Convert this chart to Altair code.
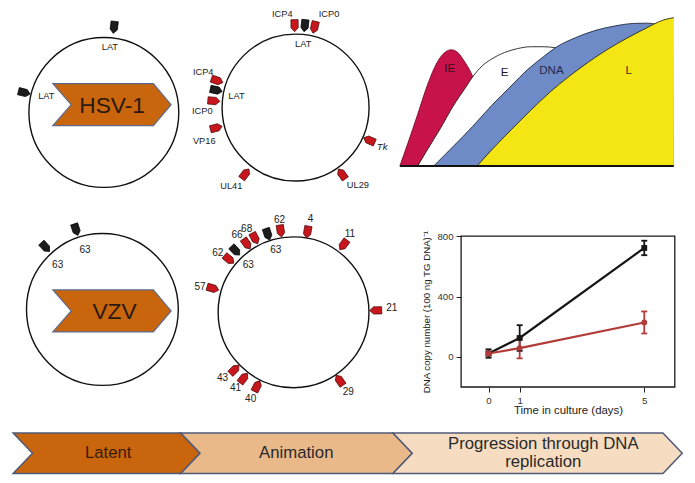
import altair as alt
import pandas as pd

# ---------------- data ----------------
# genome circles (reference-figure pixel units)
CIRCLE_ID = ["HSV-1 latent", "HSV-1 animation", "VZV latent", "VZV animation"]
CIRCLE_CX = [95.5, 293.8, 94.0, 291.7]
CIRCLE_CY = [108.0, 103.0, 311.8, 314.7]
CIRCLE_R = [77.5, 76.0, 78.5, 78.0]

# gene markers: circle index, angle (deg clockwise from top), distance from centre, class
MARK_CIRCLE = [0, 0] + [1] * 10 + [2, 2] + [3] * 14
MARK_ANGLE = [6.8, 284.0,
              359.3, 6.4, 13.2, 289.0, 282.4, 274.7, 255.7, 113.9, 145.1, 217.2,
              341.7, 317.6,
              351.0, 341.7, 332.4, 325.6, 316.7, 309.4, 286.5, 9.8, 36.5, 88.7, 145.9, 225.8, 217.2, 206.3]
MARK_DIST = [88.6, 84.8,
             84.7, 85.2, 85.3, 85.8, 84.0, 84.8, 84.7, 83.3, 83.7, 86.0,
             86.9, 87.4,
             85.1, 85.0, 86.2, 85.7, 87.5, 86.3, 87.0, 84.2, 86.7, 85.0, 84.9, 85.0, 85.4, 85.1]
MARK_CLASS = ["latency", "latency",
              "lytic", "latency", "lytic", "lytic", "latency", "lytic", "lytic", "lytic", "lytic", "lytic",
              "latency", "latency",
              "lytic", "latency", "lytic", "lytic", "latency", "lytic", "lytic", "lytic", "lytic",
              "lytic", "lytic", "lytic", "lytic", "lytic"]

# gene labels
LABEL_CIRCLE = [0, 0] + [1] * 10 + [2, 2] + [3] * 14
LABEL_TEXT = ["LAT", "LAT",
              "ICP4", "ICP0", "LAT", "ICP4", "LAT", "ICP0", "VP16", "Tk", "UL41", "UL29",
              "63", "63",
              "62", "4", "11", "68", "66", "62", "63", "63", "57", "21", "29", "43", "41", "40"]
LABEL_ANGLE = [5.3, 286.2,
               351.9, 19.6, 6.9, 290.8, 281.4, 268.2, 250.0, 114.2, 219.4, 141.0,
               343.8, 314.7,
               351.4, 10.3, 35.6, 330.5, 323.8, 308.1, 344.0, 316.2, 285.3, 87.7, 145.6, 227.2, 217.4, 206.4]
LABEL_DIST = [67.6, 62.0,
              98.0, 103.0, 66.2, 102.2, 62.3, 96.5, 100.5, 98.2, 104.8, 102.5,
              64.4, 65.1,
              96.5, 98.0, 100.1, 98.4, 98.8, 99.6, 66.6, 67.5, 100.2, 101.7, 100.1, 100.0, 98.9, 99.7]

# virus name chevrons
VIRUS_NAME = ["HSV-1", "VZV"]
VIRUS_CX = [103.9, 103.9]
VIRUS_CY = [100.0, 313.3]
VIRUS_TEXT_X = [104.0, 106.5]

# kinetic classes (time 0-100, relative level 0-100)
IE_T = [0, 2.9, 6.5, 10.0, 13.5, 16.4, 18.8, 21.1, 23.5, 25.9, 27.6, 29.4, 31.2, 32.6]
IE_L = [0, 15.2, 34.8, 54.3, 69.5, 76.5, 78.3, 76.5, 70.6, 63.0, 55.4, 43.4, 26.1, 0]
E_T = [6.5, 10.0, 14.7, 19.4, 24.1, 26.7, 30.0, 33.5, 38.2, 42.9, 47.7, 52.3, 57.0, 61.8, 66.5, 72.4, 77.1, 78.8]
E_L = [0, 10.8, 25.0, 40.2, 53.2, 60.4, 67.4, 72.1, 76.5, 79.1, 80.4, 80.4, 79.6, 76.5, 70.6, 50.0, 19.6, 0]
DNA_T = [12.4, 19.4, 26.5, 33.5, 40.6, 46.5, 52.3, 57.0, 64.1, 71.2, 78.2, 85.3, 90.0, 93.5, 97.1, 99.4, 99.8]
DNA_L = [0, 13.0, 26.5, 40.8, 53.9, 64.8, 73.5, 80.0, 86.5, 91.3, 94.3, 96.1, 96.3, 95.6, 93.5, 90.2, 0]
L_T = [28.2, 33.5, 40.6, 47.7, 54.7, 61.8, 68.8, 75.9, 83.0, 90.0, 94.7, 97.1, 100]
L_L = [0, 10.8, 24.3, 37.4, 49.6, 60.4, 70.0, 78.7, 86.3, 93.0, 97.4, 98.9, 100]
KIN_NAME = ["IE", "E", "DNA", "L"]
KIN_LABEL_T = [18.2, 38.2, 55.3, 83.5]
KIN_LABEL_L = [65.2, 63.0, 63.7, 64.1]

# DNA copy number over time
DAYS = [0, 1, 5]
BLACK_MEAN = [22, 125, 722]
BLACK_ERR = [28, 85, 48]
RED_MEAN = [22, 58, 228]
RED_ERR = [12, 68, 73]
PLOT_X_DOMAIN = [-0.88, 5.98]
PLOT_Y_DOMAIN = [-200, 800]
Y_TICKS = [0, 400, 800]

# bottom banner
BANNER_NAME = ["Latent", "Animation", "Progression"]
BANNER_LEFT = [1.7, 175.0, 394.5]
BANNER_TIP = [195.0, 414.5, 693.7]
BANNER_LINES = ["Latent", "Animation", "Progression through DNA", "replication"]
BANNER_LINE_OF = ["Latent", "Animation", "Progression", "Progression"]
BANNER_LINE_X = [100.0, 294.5, 550.0, 550.0]
BANNER_LINE_Y = [460.5, 460.5, 450.5, 469.5]

# ---------------- layout helpers ----------------
W, H = 679, 467
S = H / 483.0
OX = (W - 695 * S) / 2.0


def px(v):
    return OX + v * S


def py(v):
    return v * S


SANS = "Liberation Sans, Arial, sans-serif"

DX = alt.Scale(domain=[0, 695], range=[px(0), px(695)], nice=False, zero=False)
DY = alt.Scale(domain=[0, 483], range=[py(0), py(483)], nice=False, zero=False)


def X(f):
    return alt.X(f, type="quantitative", scale=DX, axis=None)


def Y(f):
    return alt.Y(f, type="quantitative", scale=DY, axis=None)


layers = []

# circles
circ = pd.DataFrame({"id": CIRCLE_ID, "cx": CIRCLE_CX, "cy": CIRCLE_CY, "r": CIRCLE_R})
layers.append(
    alt.Chart(circ).transform_calculate(sz=f"pow(2*datum.r*{S}, 2)")
    .mark_point(shape="circle", filled=False, stroke="#111111", strokeWidth=1.4, opacity=1)
    .encode(x=X("cx"), y=Y("cy"), size=alt.Size("sz:Q", scale=None))
)

# virus chevrons
CHEV = "M-1,-0.355L0.70,-0.355L1,0L0.70,0.355L-1,0.355L-0.689,0Z"
vir = pd.DataFrame({"name": VIRUS_NAME, "cx": VIRUS_CX, "cy": VIRUS_CY, "tx": VIRUS_TEXT_X})
layers.append(
    alt.Chart(vir).mark_point(shape=CHEV, filled=True, fill="#c9650c", stroke="#5b6a8c",
                              strokeWidth=1.2, opacity=1, size=(122.3 * S) ** 2)
    .encode(x=X("cx"), y=Y("cy"))
)
layers.append(
    alt.Chart(vir).mark_text(font=SANS, fontSize=23.5 * S, color="#2a1a10", align="center", baseline="middle", dy=1)
    .encode(x=X("tx"), y=Y("cy"), text="name:N")
)

# gene markers
MARKER = "M-0.6,-1L0.6,-1L0.6,0.35L0,1L-0.6,0.35Z"
mk = pd.DataFrame({"c": MARK_CIRCLE, "angle": MARK_ANGLE, "dist": MARK_DIST, "cls": MARK_CLASS})
mk["cx"] = [CIRCLE_CX[i] for i in MARK_CIRCLE]
mk["cy"] = [CIRCLE_CY[i] for i in MARK_CIRCLE]
layers.append(
    alt.Chart(mk)
    .transform_calculate(mx="datum.cx + datum.dist*sin(datum.angle*PI/180)",
                         my="datum.cy - datum.dist*cos(datum.angle*PI/180)")
    .mark_point(shape=MARKER, filled=True, size=(12.5 * S) ** 2, strokeWidth=0.7, opacity=1)
    .encode(
        x=X("mx"), y=Y("my"),
        angle=alt.Angle("angle:Q", scale=None),
        fill=alt.Fill("cls:N", scale=alt.Scale(domain=["latency", "lytic"], range=["#1c1c1c", "#c8161d"]), legend=None),
        stroke=alt.Stroke("cls:N", scale=alt.Scale(domain=["latency", "lytic"], range=["#000000", "#4a0808"]), legend=None),
    )
)

# gene labels
lb = pd.DataFrame({"c": LABEL_CIRCLE, "label": LABEL_TEXT, "angle": LABEL_ANGLE, "dist": LABEL_DIST})
lb["cx"] = [CIRCLE_CX[i] for i in LABEL_CIRCLE]
lb["cy"] = [CIRCLE_CY[i] for i in LABEL_CIRCLE]
lbase = alt.Chart(lb).transform_calculate(
    lx="datum.cx + datum.dist*sin(datum.angle*PI/180)",
    ly="datum.cy - datum.dist*cos(datum.angle*PI/180)")
layers.append(
    lbase.transform_filter("datum.c <= 1 && datum.label !== 'Tk'")
    .mark_text(font=SANS, fontSize=9.6 * S, color="#222222", align="center", baseline="middle")
    .encode(x=X("lx"), y=Y("ly"), text="label:N")
)
layers.append(
    lbase.transform_filter("datum.label === 'Tk'")
    .mark_text(font=SANS, fontSize=10 * S, fontStyle="italic", color="#222222", align="center", baseline="middle")
    .encode(x=X("lx"), y=Y("ly"), text="label:N")
)
layers.append(
    lbase.transform_filter("datum.c >= 2")
    .mark_text(font=SANS, fontSize=10.4 * S, color="#222222", align="center", baseline="middle")
    .encode(x=X("lx"), y=Y("ly"), text="label:N")
)

# kinetic classes panel
KX = alt.Scale(domain=[0, 100], range=[px(401.7), px(685)], nice=False, zero=False)
KY = alt.Scale(domain=[0, 100], range=[py(163.3), py(10)], nice=False, zero=False)
kin_fill = {"IE": "#c8124a", "E": "#ffffff", "DNA": "#6f8bc7", "L": "#f4e614"}
kin_line = {"IE": "#7a0a2a", "E": "#222222", "DNA": "#1f2a40", "L": "#2a2a10"}
for name, tt, ll in [("IE", IE_T, IE_L), ("E", E_T, E_L), ("DNA", DNA_T, DNA_L), ("L", L_T, L_L)]:
    d = pd.DataFrame({"t": tt, "lvl": ll})
    base = alt.Chart(d).encode(
        x=alt.X("t:Q", scale=KX, axis=None),
        y=alt.Y("lvl:Q", scale=KY, axis=None),
    )
    layers.append(base.mark_area(interpolate="monotone", fill=kin_fill[name], opacity=1)
                  .encode(y2=alt.datum(0)))
    layers.append(base.mark_line(interpolate="monotone", stroke=kin_line[name], strokeWidth=0.9))

kb = pd.DataFrame({"t0": [0], "t1": [100], "lvl": [0]})
layers.append(
    alt.Chart(kb).mark_rule(stroke="#111111", strokeWidth=2)
    .encode(x=alt.X("t0:Q", scale=KX, axis=None), x2="t1:Q", y=alt.Y("lvl:Q", scale=KY, axis=None))
)
kl = pd.DataFrame({"name": KIN_NAME, "t": KIN_LABEL_T, "lvl": KIN_LABEL_L})
layers.append(
    alt.Chart(kl).mark_text(font=SANS, fontSize=12 * S, align="center", baseline="middle")
    .encode(x=alt.X("t:Q", scale=KX, axis=None), y=alt.Y("lvl:Q", scale=KY, axis=None), text="name:N",
            color=alt.Color("name:N", scale=alt.Scale(domain=KIN_NAME, range=["#3a0c20", "#1a1a1a", "#1e2a4e", "#333322"]),
                            legend=None))
)

# DNA copy number panel
LX = alt.Scale(domain=PLOT_X_DOMAIN, range=[px(465), px(686)], nice=False, zero=False)
LY = alt.Scale(domain=PLOT_Y_DOMAIN, range=[py(392), py(236)], nice=False, zero=False)
frame = pd.DataFrame({"x0": [PLOT_X_DOMAIN[0]], "x1": [PLOT_X_DOMAIN[1]],
                      "y0": [PLOT_Y_DOMAIN[0]], "y1": [PLOT_Y_DOMAIN[1]]})
layers.append(
    alt.Chart(frame).mark_rect(fillOpacity=0, stroke="#1a1a1a", strokeWidth=1.3)
    .encode(
        x=alt.X("x0:Q", scale=LX, axis=alt.Axis(
            orient="bottom", offset=py(392) - H, values=DAYS, domain=False, grid=False,
            tickSize=5, tickColor="#222", labelFont=SANS, labelFontSize=10 * S, labelColor="#333",
            labelPadding=3, title="Time in culture (days)", titleFont=SANS, titleFontSize=11.8 * S,
            titleFontWeight="normal", titleColor="#222", titlePadding=0)),
        x2="x1:Q",
        y=alt.Y("y0:Q", scale=LY, axis=alt.Axis(
            orient="left", offset=-px(465), values=Y_TICKS, domain=False, grid=False,
            tickSize=5, tickColor="#222", labelFont=SANS, labelFontSize=10 * S, labelColor="#333",
            labelPadding=3, title="DNA copy number (100 ng TG DNA)⁻¹", titleFont=SANS,
            titleFontSize=10 * S, titleFontWeight="normal", titleColor="#222", titlePadding=5)),
        y2="y1:Q",
    )
)
series = pd.DataFrame({
    "day": DAYS * 2,
    "mean": BLACK_MEAN + RED_MEAN,
    "err": BLACK_ERR + RED_ERR,
    "series": ["black"] * 3 + ["red"] * 3,
})
SER_COL = alt.Scale(domain=["black", "red"], range=["#161616", "#b23c3a"])
sbase = alt.Chart(series).transform_calculate(lo="datum.mean - datum.err", hi="datum.mean + datum.err")
xenc = alt.X("day:Q", scale=LX, axis=None)
layers.append(
    sbase.mark_line(strokeWidth=2.2)
    .encode(x=xenc, y=alt.Y("mean:Q", scale=LY, axis=None),
            color=alt.Color("series:N", scale=SER_COL, legend=None))
)
layers.append(
    sbase.mark_rule(strokeWidth=1.8)
    .encode(x=xenc, y=alt.Y("lo:Q", scale=LY, axis=None), y2="hi:Q",
            color=alt.Color("series:N", scale=SER_COL, legend=None))
)
for fld in ["lo", "hi"]:
    layers.append(
        sbase.mark_rule(strokeWidth=1.8, xOffset=-3, x2Offset=3)
        .encode(x=xenc, x2="day:Q", y=alt.Y(f"{fld}:Q", scale=LY, axis=None),
                color=alt.Color("series:N", scale=SER_COL, legend=None))
    )
layers.append(
    sbase.mark_point(filled=True, size=34, opacity=1)
    .encode(x=xenc, y=alt.Y("mean:Q", scale=LY, axis=None),
            color=alt.Color("series:N", scale=SER_COL, legend=None),
            shape=alt.Shape("series:N", scale=alt.Scale(domain=["black", "red"], range=["square", "circle"]), legend=None))
)

# bottom banner
DEPTH, HALF_H, BAN_CY = 20.0, 21.0, 460.5
paths, sizes, centers = [], [], []
for left, tip in zip(BANNER_LEFT, BANNER_TIP):
    c = (left + tip) / 2.0
    hw = (tip - left) / 2.0
    h = HALF_H / hw
    taper = (tip - DEPTH - c) / hw
    notch = (left + DEPTH - c) / hw
    paths.append(f"M-1,{-h:.4f}L{taper:.4f},{-h:.4f}L1,0L{taper:.4f},{h:.4f}L-1,{h:.4f}L{notch:.4f},0Z")
    sizes.append((2 * hw * S) ** 2)
    centers.append(c)
ban = pd.DataFrame({"name": BANNER_NAME, "cx": centers, "cy": [BAN_CY] * 3, "path": paths, "sz": sizes})
layers.append(
    alt.Chart(ban).mark_point(filled=True, opacity=1, stroke="#4f5a78", strokeWidth=1.5)
    .encode(x=X("cx"), y=Y("cy"),
            shape=alt.Shape("path:N", scale=None),
            size=alt.Size("sz:Q", scale=None),
            fill=alt.Fill("name:N", scale=alt.Scale(domain=BANNER_NAME, range=["#c9650c", "#e9b98a", "#f6dcc0"]),
                          legend=None))
)
bt = pd.DataFrame({"text": BANNER_LINES, "name": BANNER_LINE_OF, "x": BANNER_LINE_X, "y": BANNER_LINE_Y})
layers.append(
    alt.Chart(bt).mark_text(font=SANS, fontSize=17.3 * S, align="center", baseline="middle")
    .encode(x=X("x"), y=Y("y"), text="text:N",
            color=alt.Color("name:N", scale=alt.Scale(domain=BANNER_NAME, range=["#3a1c06", "#2a2a2a", "#2a2a2a"]),
                            legend=None))
)

chart = (
    alt.layer(*layers)
    .resolve_scale(x="independent", y="independent", color="independent", fill="independent",
                   stroke="independent", shape="independent", size="independent", angle="independent")
    .properties(width=W, height=H, autosize=alt.AutoSizeParams(type="none"), padding=0, background="white")
    .configure_view(stroke=None)
)
chart.save("out.html", embed_options={"renderer": "svg", "actions": False})
